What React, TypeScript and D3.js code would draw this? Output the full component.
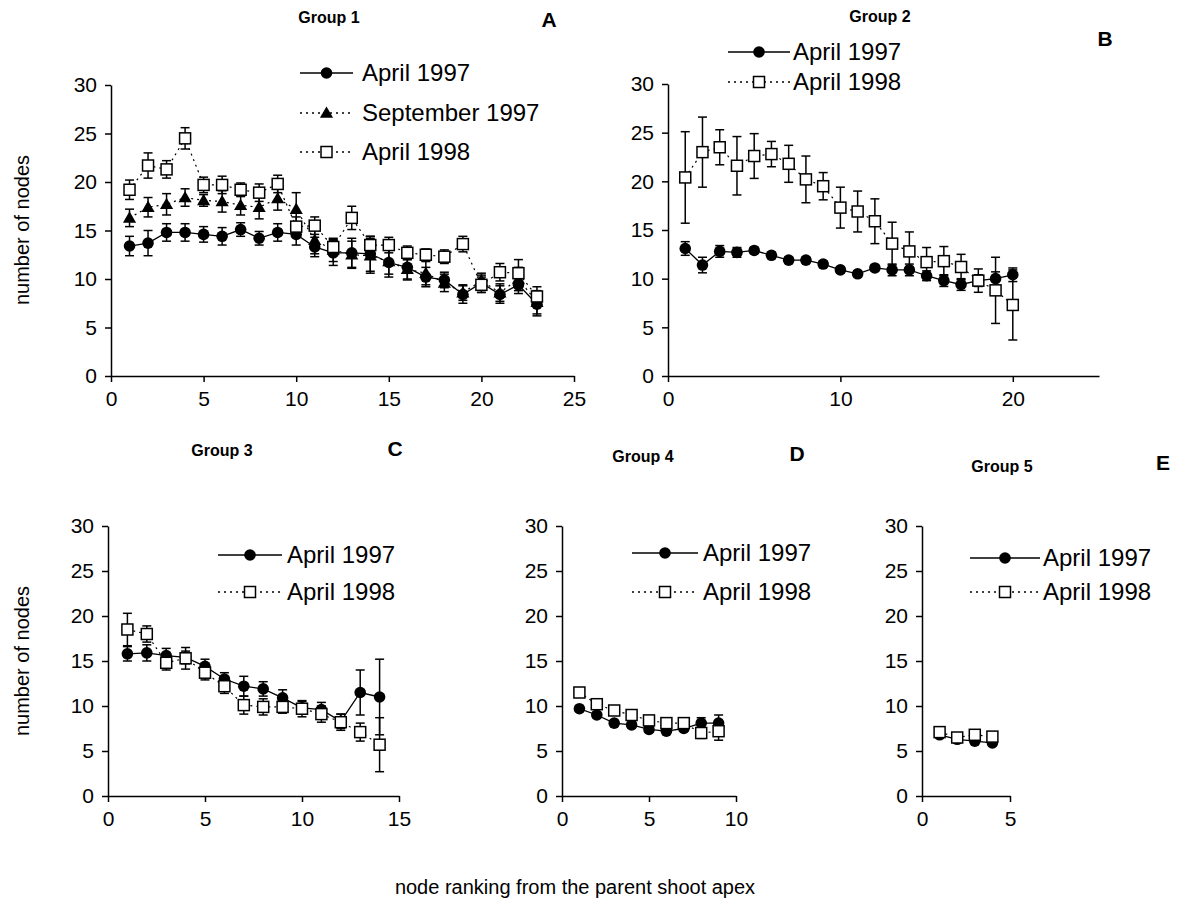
import React, { useEffect, useRef } from "react";
import * as d3 from "d3";

const FONT = "'Liberation Sans', Arial, Helvetica, sans-serif";

// Group 1 (panel A)
const g1Rank = [1, 2, 3, 4, 5, 6, 7, 8, 9, 10, 11, 12, 13, 14, 15, 16, 17, 18, 19, 20, 21, 22, 23];
const g1Apr97 = [13.4, 13.7, 14.8, 14.8, 14.6, 14.4, 15.1, 14.2, 14.8, 14.6, 13.3, 12.7, 12.7, 12.6, 11.7, 11.2, 10.2, 9.9, 8.4, 9.6, 8.4, 9.4, 7.4];
const g1Apr97Err = [1.0, 1.3, 0.9, 0.9, 0.8, 0.9, 0.7, 0.7, 0.9, 1.1, 1.0, 1.3, 1.5, 1.8, 1.5, 1.3, 1.0, 0.8, 0.9, 0.8, 0.9, 0.9, 1.2];
const g1Sep97 = [16.3, 17.4, 17.7, 18.4, 18.1, 18.0, 17.6, 17.4, 18.3, 17.2, 14.0, 13.0, 12.5, 12.4, 11.8, 11.0, 10.6, 9.6, 8.6, 9.8, 8.6, 10.0, 7.6];
const g1Sep97Err = [0.9, 1.0, 1.1, 0.9, 0.6, 1.1, 1.0, 1.2, 1.2, 1.7, 1.4, 1.2, 1.4, 1.8, 1.3, 1.0, 1.2, 0.9, 0.8, 0.8, 0.9, 1.2, 1.2];
const g1Apr98 = [19.2, 21.7, 21.3, 24.5, 19.7, 19.7, 19.2, 18.9, 19.8, 15.4, 15.5, 13.3, 16.3, 13.5, 13.5, 12.7, 12.5, 12.3, 13.6, 9.4, 10.7, 10.6, 8.2];
const g1Apr98Err = [1.0, 1.3, 0.9, 1.1, 0.8, 0.9, 0.7, 0.9, 0.9, 1.0, 0.9, 0.8, 1.2, 0.9, 0.8, 0.7, 0.6, 0.7, 0.8, 0.8, 0.9, 1.4, 1.0];

// Group 2 (panel B)
const g2Rank = [1, 2, 3, 4, 5, 6, 7, 8, 9, 10, 11, 12, 13, 14, 15, 16, 17, 18, 19, 20];
const g2Apr97 = [13.1, 11.4, 12.8, 12.7, 12.9, 12.4, 11.9, 11.9, 11.5, 10.9, 10.5, 11.1, 10.9, 10.9, 10.3, 9.8, 9.4, 9.8, 10.0, 10.4];
const g2Apr97Err = [0.7, 0.8, 0.6, 0.5, 0.3, 0.3, 0.3, 0.3, 0.3, 0.3, 0.3, 0.3, 0.6, 0.6, 0.5, 0.6, 0.6, 0.6, 0.7, 0.7];
const g2Apr98 = [20.4, 23.0, 23.5, 21.6, 22.6, 22.8, 21.8, 20.2, 19.5, 17.3, 16.9, 15.9, 13.6, 12.8, 11.7, 11.8, 11.2, 9.8, 8.8, 7.3];
const g2Apr98Err = [4.7, 3.6, 1.8, 3.0, 2.3, 1.3, 1.9, 2.4, 1.4, 2.1, 2.1, 2.3, 2.2, 2.0, 1.5, 1.5, 1.3, 1.2, 3.4, 3.6];

// Group 3 (panel C)
const g3Rank = [1, 2, 3, 4, 5, 6, 7, 8, 9, 10, 11, 12, 13, 14];
const g3Apr97 = [15.8, 15.9, 15.6, 15.4, 14.4, 13.0, 12.2, 11.9, 10.9, 9.8, 9.6, 8.3, 11.5, 11.0];
const g3Apr97Err = [0.8, 0.9, 0.8, 0.7, 0.8, 0.7, 1.1, 0.8, 0.9, 0.7, 0.8, 0.8, 2.5, 4.2];
const g3Apr98 = [18.5, 18.0, 14.8, 15.3, 13.7, 12.2, 10.1, 9.9, 9.9, 9.7, 9.1, 8.2, 7.1, 5.7];
const g3Apr98Err = [1.8, 0.9, 0.8, 1.2, 0.8, 0.8, 1.0, 0.9, 0.7, 0.9, 0.9, 0.9, 1.0, 3.0];

// Group 4 (panel D)
const g4Rank = [1, 2, 3, 4, 5, 6, 7, 8, 9];
const g4Apr97 = [9.7, 9.0, 8.1, 7.9, 7.4, 7.2, 7.5, 8.1, 8.1];
const g4Apr97Err = [0.3, 0.3, 0.3, 0.3, 0.3, 0.3, 0.3, 0.6, 0.9];
const g4Apr98 = [11.5, 10.2, 9.5, 9.0, 8.4, 8.1, 8.1, 7.0, 7.2];
const g4Apr98Err = [0.5, 0.4, 0.3, 0.4, 0.3, 0.3, 0.3, 0.6, 1.0];

// Group 5 (panel E)
const g5Rank = [1, 2, 3, 4];
const g5Apr97 = [6.8, 6.3, 6.1, 5.9];
const g5Apr97Err = [0.3, 0.3, 0.3, 0.3];
const g5Apr98 = [7.1, 6.5, 6.8, 6.6];
const g5Apr98Err = [0.3, 0.3, 0.3, 0.3];

const yTicks = [0, 5, 10, 15, 20, 25, 30];

type Kind = "circle" | "triangle" | "square";
type Series = { name: string; kind: Kind; x: number[]; v: number[]; e: number[] };

const apr97 = (x: number[], v: number[], e: number[]): Series => ({ name: "April 1997", kind: "circle", x, v, e });
const sep97 = (x: number[], v: number[], e: number[]): Series => ({ name: "September 1997", kind: "triangle", x, v, e });
const apr98 = (x: number[], v: number[], e: number[]): Series => ({ name: "April 1998", kind: "square", x, v, e });

const panels = [
  {
    title: "Group 1", letter: "A", left: 111, right: 574, top: 85, bottom: 376, xMax: 25,
    xTicks: [0, 5, 10, 15, 20, 25], titlePos: [329, 23], letterPos: [549, 27],
    legend: { x0: 300, x1: 353, tx: 362, rows: [73, 113, 152] },
    series: [apr97(g1Rank, g1Apr97, g1Apr97Err), sep97(g1Rank, g1Sep97, g1Sep97Err), apr98(g1Rank, g1Apr98, g1Apr98Err)],
  },
  {
    title: "Group 2", letter: "B", left: 668, right: 1099, top: 84, bottom: 376, xMax: 25,
    xTicks: [0, 10, 20], titlePos: [880, 22], letterPos: [1105, 46],
    legend: { x0: 728, x1: 790, tx: 793, rows: [52, 82] },
    series: [apr97(g2Rank, g2Apr97, g2Apr97Err), apr98(g2Rank, g2Apr98, g2Apr98Err)],
  },
  {
    title: "Group 3", letter: "C", left: 108, right: 399, top: 526, bottom: 796, xMax: 15,
    xTicks: [0, 5, 10, 15], titlePos: [222, 456], letterPos: [395, 456],
    legend: { x0: 218, x1: 282, tx: 287, rows: [555, 592] },
    series: [apr97(g3Rank, g3Apr97, g3Apr97Err), apr98(g3Rank, g3Apr98, g3Apr98Err)],
  },
  {
    title: "Group 4", letter: "D", left: 562, right: 736, top: 526, bottom: 796, xMax: 10,
    xTicks: [0, 5, 10], titlePos: [643, 462], letterPos: [797, 461],
    legend: { x0: 632, x1: 698, tx: 703, rows: [553, 592] },
    series: [apr97(g4Rank, g4Apr97, g4Apr97Err), apr98(g4Rank, g4Apr98, g4Apr98Err)],
  },
  {
    title: "Group 5", letter: "E", left: 922, right: 1010, top: 526, bottom: 796, xMax: 5,
    xTicks: [0, 5], titlePos: [1002, 472], letterPos: [1163, 470],
    legend: { x0: 970, x1: 1040, tx: 1043, rows: [558, 592] },
    series: [apr97(g5Rank, g5Apr97, g5Apr97Err), apr98(g5Rank, g5Apr98, g5Apr98Err)],
  },
];

function drawMarker(g: any, kind: Kind, cx: number, cy: number) {
  if (kind === "circle") {
    g.append("circle").attr("cx", cx).attr("cy", cy).attr("r", 5.8).attr("fill", "#000");
  } else if (kind === "triangle") {
    g.append("path")
      .attr("d", d3.symbol(d3.symbolTriangle, 75)())
      .attr("transform", `translate(${cx},${cy + 1})`)
      .attr("fill", "#000");
  } else {
    g.append("rect")
      .attr("x", cx - 5.5).attr("y", cy - 5.5).attr("width", 11).attr("height", 11)
      .attr("fill", "#fff").attr("stroke", "#000").attr("stroke-width", 1.5);
  }
}

export default function App() {
  const ref = useRef<SVGSVGElement>(null);

  useEffect(() => {
    const svg = d3.select(ref.current);
    svg.selectAll("*").remove();
    const fmt = d3.format("d");

    panels.forEach((p) => {
      const x = d3.scaleLinear().domain([0, p.xMax]).range([p.left, p.right]);
      const y = d3.scaleLinear().domain([0, 30]).range([p.bottom, p.top]);
      const g = svg.append("g");

      const yAxis = g.append("g")
        .attr("transform", `translate(${p.left},0)`)
        .call(d3.axisLeft(y).tickValues(yTicks).tickFormat(fmt).tickSize(6).tickSizeOuter(0).tickPadding(8));
      const xAxis = g.append("g")
        .attr("transform", `translate(0,${p.bottom})`)
        .call(d3.axisBottom(x).tickValues(p.xTicks).tickFormat(fmt).tickSize(6).tickSizeOuter(0).tickPadding(9));
      [yAxis, xAxis].forEach((a) => {
        a.selectAll("path, line").attr("stroke", "#000").attr("stroke-width", 1.5);
        a.selectAll("text").attr("font-family", FONT).attr("font-size", 21).attr("fill", "#000");
      });

      // error bars
      p.series.forEach((s) => {
        s.x.forEach((xv, i) => {
          const cx = x(xv);
          const y0 = y(s.v[i] - s.e[i]);
          const y1 = y(s.v[i] + s.e[i]);
          g.append("line").attr("x1", cx).attr("x2", cx).attr("y1", y0).attr("y2", y1)
            .attr("stroke", "#000").attr("stroke-width", 1.5);
          [y0, y1].forEach((yy) =>
            g.append("line").attr("x1", cx - 4.5).attr("x2", cx + 4.5).attr("y1", yy).attr("y2", yy)
              .attr("stroke", "#000").attr("stroke-width", 1.5)
          );
        });
      });

      // connecting lines
      p.series.forEach((s) => {
        const line = d3.line<number>().x((d, i) => x(s.x[i])).y((d) => y(d));
        g.append("path")
          .attr("d", line(s.v))
          .attr("fill", "none")
          .attr("stroke", "#000")
          .attr("stroke-width", s.kind === "circle" ? 1.3 : 1.2)
          .attr("stroke-dasharray", s.kind === "circle" ? null : "2,4");
      });

      // markers
      p.series.forEach((s) => {
        s.x.forEach((xv, i) => drawMarker(g, s.kind, x(xv), y(s.v[i])));
      });

      // legend
      p.series.forEach((s, i) => {
        const ly = p.legend.rows[i];
        g.append("line")
          .attr("x1", p.legend.x0).attr("x2", p.legend.x1).attr("y1", ly).attr("y2", ly)
          .attr("stroke", "#000").attr("stroke-width", 1.3)
          .attr("stroke-dasharray", s.kind === "circle" ? null : "2,4");
        drawMarker(g, s.kind, (p.legend.x0 + p.legend.x1) / 2, ly);
        g.append("text")
          .attr("x", p.legend.tx).attr("y", ly + 8)
          .attr("font-family", FONT).attr("font-size", 24)
          .text(s.name);
      });

      g.append("text")
        .attr("x", p.titlePos[0]).attr("y", p.titlePos[1])
        .attr("text-anchor", "middle")
        .attr("font-family", FONT).attr("font-size", 16).attr("font-weight", "bold")
        .text(p.title);
      g.append("text")
        .attr("x", p.letterPos[0]).attr("y", p.letterPos[1])
        .attr("text-anchor", "middle")
        .attr("font-family", FONT).attr("font-size", 21).attr("font-weight", "bold")
        .text(p.letter);
    });

    [230, 661].forEach((cy) =>
      svg.append("text")
        .attr("transform", `translate(29,${cy}) rotate(-90)`)
        .attr("text-anchor", "middle")
        .attr("font-family", FONT).attr("font-size", 20)
        .text("number of nodes")
    );

    svg.append("text")
      .attr("x", 575).attr("y", 894)
      .attr("text-anchor", "middle")
      .attr("font-family", FONT).attr("font-size", 20)
      .text("node ranking from the parent shoot apex");
  }, []);

  return (
    <svg
      ref={ref}
      width={1183}
      height={919}
      style={{ position: "absolute", left: 0, top: 0, background: "#fff" }}
    />
  );
}
